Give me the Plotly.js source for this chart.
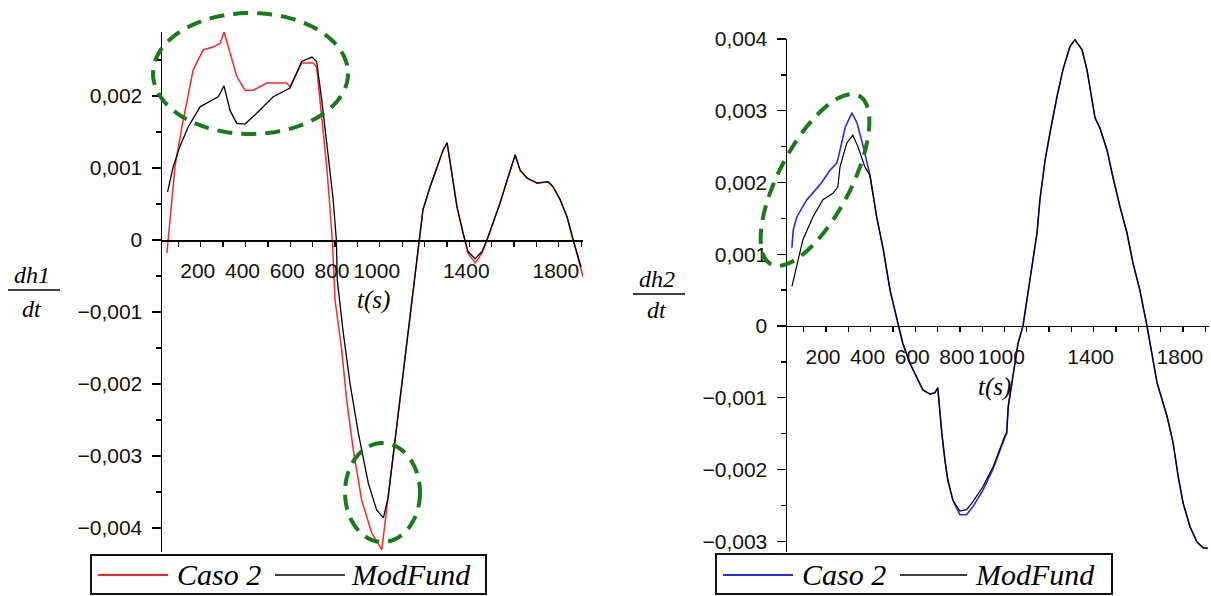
<!DOCTYPE html>
<html>
<head>
<meta charset="utf-8">
<script src="https://cdn.plot.ly/plotly-3.0.1.min.js"></script>
<style>
  html, body { margin: 0; padding: 0; background: #ffffff; }
  #chart { width: 1211px; height: 596px; }
</style>
</head>
<body>
<div id="chart"></div>
<script>
// ---------------- DATA ----------------
// Left panel: dh1/dt versus t(s)
const t1Caso2 = [49, 63, 85, 116, 139, 166, 211, 255, 286, 304, 331, 361, 398, 435, 495, 584, 599, 636, 652, 702, 718, 733, 748, 763, 776, 788, 800, 830, 852, 882, 919, 964, 1009, 1037, 1070, 1100, 1140, 1177, 1193, 1225, 1256, 1283, 1301, 1323, 1345, 1372, 1394, 1426, 1457, 1479, 1506, 1537, 1569, 1605, 1627, 1658, 1703, 1752, 1774, 1806, 1837, 1864, 1908];
const dh1Caso2 = [-0.00018, 0.00032, 0.00102, 0.00157, 0.00195, 0.00236, 0.00264, 0.00268, 0.00273, 0.00289, 0.0026, 0.00227, 0.00208, 0.00208, 0.00218, 0.00218, 0.00213, 0.00236, 0.00246, 0.00246, 0.0024, 0.00194, 0.00148, 0.00102, 0.0005, 0.0, -0.00083, -0.00153, -0.00222, -0.00292, -0.00361, -0.00407, -0.0043, -0.00358, -0.00274, -0.00197, -0.00095, 0.0, 0.00042, 0.00074, 0.00102, 0.00125, 0.00135, 0.00093, 0.00046, 0.0001, -0.00018, -0.00032, -0.00018, 0.0, 0.00024, 0.00051, 0.00083, 0.00118, 0.00097, 0.00086, 0.00079, 0.00081, 0.00074, 0.00056, 0.00032, 0.0, -0.00051];

const t1ModFund = [52, 77, 107, 144, 197, 241, 278, 304, 331, 361, 398, 450, 524, 599, 621, 651, 697, 718, 741, 763, 792, 806, 810, 837, 867, 904, 949, 986, 1016, 1037, 1070, 1100, 1140, 1177, 1193, 1225, 1256, 1283, 1301, 1323, 1345, 1372, 1394, 1426, 1457, 1479, 1506, 1537, 1569, 1605, 1627, 1658, 1703, 1752, 1774, 1806, 1837, 1864, 1900];
const dh1ModFund = [0.00067, 0.00102, 0.0013, 0.00157, 0.00185, 0.00192, 0.00199, 0.00214, 0.0018, 0.00162, 0.00161, 0.00176, 0.00199, 0.00211, 0.00227, 0.00248, 0.00254, 0.00248, 0.00194, 0.00134, 0.00056, 0.0, -0.00055, -0.00129, -0.00199, -0.00268, -0.00338, -0.00375, -0.00386, -0.00358, -0.00274, -0.00197, -0.00095, 0.0, 0.00042, 0.00074, 0.00102, 0.00125, 0.00135, 0.00093, 0.00046, 0.0001, -0.00016, -0.00026, -0.00016, 0.0, 0.00024, 0.00051, 0.00083, 0.00118, 0.00097, 0.00086, 0.00079, 0.00081, 0.00074, 0.00056, 0.00032, 0.0, -0.00038];

// Right panel: dh2/dt versus t(s)
const t2Caso2 = [47, 53, 69, 114, 173, 218, 248, 256, 286, 316, 339, 367, 397, 427, 457, 487, 525, 544, 576, 607, 634, 666, 688, 701, 708, 719, 733, 746, 769, 800, 830, 858, 903, 948, 1002, 1010, 1017, 1033, 1061, 1083, 1105, 1128, 1146, 1159, 1182, 1204, 1235, 1262, 1293, 1316, 1348, 1370, 1392, 1406, 1428, 1460, 1486, 1518, 1549, 1576, 1607, 1639, 1684, 1729, 1756, 1779, 1801, 1832, 1863, 1890, 1912];
const dh2Caso2 = [0.00109, 0.00134, 0.00152, 0.00176, 0.00197, 0.00217, 0.00227, 0.00236, 0.00277, 0.00297, 0.00283, 0.0025, 0.0021, 0.00152, 0.00106, 0.0005, 0.0, -0.00024, -0.00052, -0.00071, -0.00089, -0.00095, -0.00093, -0.00086, -0.00113, -0.00149, -0.00187, -0.00215, -0.00243, -0.00263, -0.00263, -0.00252, -0.00229, -0.002, -0.00155, -0.0015, -0.00112, -0.00079, -0.00024, 0.0, 0.00046, 0.00092, 0.0013, 0.00176, 0.00231, 0.00269, 0.00319, 0.00357, 0.00389, 0.00399, 0.00385, 0.00357, 0.00319, 0.0029, 0.00276, 0.00245, 0.00208, 0.00166, 0.0013, 0.00088, 0.0005, 0.0, -0.00079, -0.00126, -0.00163, -0.0021, -0.00247, -0.0028, -0.00301, -0.00309, -0.0031];

const t2ModFund = [47, 69, 96, 141, 186, 231, 253, 263, 293, 320, 343, 374, 397, 427, 457, 487, 525, 544, 576, 607, 634, 666, 688, 701, 708, 719, 733, 746, 769, 800, 830, 858, 903, 948, 1002, 1010, 1017, 1033, 1061, 1083, 1105, 1128, 1146, 1159, 1182, 1204, 1235, 1262, 1293, 1316, 1348, 1370, 1392, 1406, 1428, 1460, 1486, 1518, 1549, 1576, 1607, 1639, 1684, 1729, 1756, 1779, 1801, 1832, 1863, 1890, 1910];
const dh2ModFund = [0.00055, 0.00083, 0.0012, 0.00152, 0.00176, 0.00185, 0.00194, 0.00222, 0.00255, 0.00266, 0.0025, 0.00222, 0.0021, 0.00152, 0.00106, 0.0005, 0.0, -0.00024, -0.00052, -0.00071, -0.00089, -0.00095, -0.00093, -0.00086, -0.00113, -0.00149, -0.00187, -0.00215, -0.00243, -0.00258, -0.00256, -0.00245, -0.00224, -0.00197, -0.00153, -0.00148, -0.00112, -0.00079, -0.00024, 0.0, 0.00046, 0.00092, 0.0013, 0.00176, 0.00231, 0.00269, 0.00319, 0.00357, 0.00389, 0.00399, 0.00385, 0.00357, 0.00319, 0.0029, 0.00276, 0.00245, 0.00208, 0.00166, 0.0013, 0.00088, 0.0005, 0.0, -0.00079, -0.00126, -0.00163, -0.0021, -0.00247, -0.0028, -0.00301, -0.00309, -0.0031];

// Series names
const seriesNames = ["Caso 2", "ModFund"];

// Tick positions / labels
const xTickVals = [100, 200, 300, 400, 500, 600, 700, 800, 900, 1000, 1100, 1200, 1300, 1400, 1500, 1600, 1700, 1800, 1900];
const xTickText = ["", "200", "", "400", "", "600", "", "800", "", "1000", "", "", "", "1400", "", "", "", "1800", ""];
const y1TickVals = [-0.004, -0.003, -0.002, -0.001, 0, 0.001, 0.002];
const y1TickText = ["\u22120,004", "\u22120,003", "\u22120,002", "\u22120,001", "0", "0,001", "0,002"];
const y2TickVals = [-0.003, -0.002, -0.001, 0, 0.001, 0.002, 0.003, 0.004];
const y2TickText = ["\u22120,003", "\u22120,002", "\u22120,001", "0", "0,001", "0,002", "0,003", "0,004"];

// Axis ranges
const x1Range = [27, 1908];
const y1Range = [-0.004333, 0.002889];
const x2Range = [25, 1917];
const y2Range = [-0.00315, 0.004];

// ---------------- LAYOUT GEOMETRY (pixels) ----------------
const W = 1211, H = 596;
const P1 = {x0: 162, x1: 583, y0: 32, y1: 552};
const P2 = {x0: 787, x1: 1209, y0: 39, y1: 552};
const px = v => v / W;
const py = v => 1 - v / H;
const xDom = P => [px(P.x0), px(P.x1)];
const yDom = P => [py(P.y1), py(P.y0)];
const zeroPos = (P, r) => { const d = yDom(P); return d[0] + (0 - r[0]) / (r[1] - r[0]) * (d[1] - d[0]); };

const colCaso1 = "#ff2626", colCaso2 = "#2626ff", colMod = "#000000";
const tickFont = {family: "Liberation Sans, Arial, sans-serif", size: 21, color: "#111"};
const serifIt = (s) => ({family: "Liberation Serif, Times New Roman, serif", size: s, color: "#000", style: "italic"});
const green = "#187a18";

function xAxis(P, range, yRange) {
  return {
    domain: xDom(P), range: range, anchor: "free", position: zeroPos(P, yRange),
    showline: true, linecolor: "#000", linewidth: 1.5,
    ticks: "outside", ticklen: 5, tickwidth: 1.3, tickcolor: "#000",
    tickmode: "array", tickvals: xTickVals, ticktext: xTickText,
    tickfont: tickFont, ticklabelstandoff: 6, ticklabelshift: -3,
    showgrid: false, zeroline: false, fixedrange: true
  };
}
function yAxis(P, range, vals, text, xa) {
  return {
    domain: yDom(P), range: range, anchor: xa,
    showline: true, linecolor: "#000", linewidth: 1.5,
    ticks: "outside", ticklen: 9, tickwidth: 1.3, tickcolor: "#000",
    tickmode: "array", tickvals: vals, ticktext: text,
    tickfont: tickFont, ticklabelstandoff: 5,
    minor: {ticks: "outside", dtick: 0.0005, tick0: 0, ticklen: 5, tickwidth: 1.3, tickcolor: "#000", showgrid: false},
    showgrid: false, zeroline: false, fixedrange: true
  };
}

function ellipsePath(cx, cy, rx, ry, angDeg) {
  const a = angDeg * Math.PI / 180, n = 90;
  let d = "";
  for (let i = 0; i <= n; i++) {
    const th = 2 * Math.PI * i / n;
    const ex = rx * Math.cos(th), ey = ry * Math.sin(th);
    const x = cx + ex * Math.cos(a) - ey * Math.sin(a);
    const y = cy + ex * Math.sin(a) + ey * Math.cos(a);
    d += (i ? "L" : "M") + px(x).toFixed(5) + "," + py(y).toFixed(5);
  }
  return d + "Z";
}

const traces = [
  {x: t1Caso2, y: dh1Caso2, name: seriesNames[0], xaxis: "x", yaxis: "y", mode: "lines", line: {color: colCaso1, width: 1.5}, showlegend: false},
  {x: t1ModFund, y: dh1ModFund, name: seriesNames[1], xaxis: "x", yaxis: "y", mode: "lines", line: {color: colMod, width: 1.3}, showlegend: false},
  {x: t2Caso2, y: dh2Caso2, name: seriesNames[0], xaxis: "x2", yaxis: "y2", mode: "lines", line: {color: colCaso2, width: 1.6}, showlegend: false},
  {x: t2ModFund, y: dh2ModFund, name: seriesNames[1], xaxis: "x2", yaxis: "y2", mode: "lines", line: {color: colMod, width: 1.2}, showlegend: false}
];

const shapes = [];
const annotations = [];

// green dashed highlight ellipses
const dashStyle = {color: green, width: 4, dash: "15px,9px"};
shapes.push({type: "path", xref: "paper", yref: "paper", path: ellipsePath(250.5, 73.5, 97.5, 60.5, 0), line: dashStyle});
shapes.push({type: "path", xref: "paper", yref: "paper", path: ellipsePath(382.5, 492.5, 37.5, 49.5, 0), line: dashStyle});
shapes.push({type: "path", xref: "paper", yref: "paper", path: ellipsePath(815, 180, 95, 36, -62.4), line: dashStyle});

// custom legends
function legend(box, c1, line1, text1x, line2, text2x, ly) {
  shapes.push({type: "rect", xref: "paper", yref: "paper", x0: px(box[0]), x1: px(box[1]), y0: py(box[3]), y1: py(box[2]), line: {color: "#111", width: 2}, fillcolor: "rgba(0,0,0,0)"});
  shapes.push({type: "line", xref: "paper", yref: "paper", x0: px(line1[0]), x1: px(line1[1]), y0: py(ly), y1: py(ly), line: {color: c1, width: 2}});
  shapes.push({type: "line", xref: "paper", yref: "paper", x0: px(line2[0]), x1: px(line2[1]), y0: py(ly), y1: py(ly), line: {color: colMod, width: 1.6}});
  annotations.push({xref: "paper", yref: "paper", x: px(text1x), y: py(ly - 1), xanchor: "left", yanchor: "middle", text: seriesNames[0], showarrow: false, font: serifIt(30)});
  annotations.push({xref: "paper", yref: "paper", x: px(text2x), y: py(ly - 1), xanchor: "left", yanchor: "middle", text: seriesNames[1], showarrow: false, font: serifIt(30)});
}
legend([91, 486, 555, 594], colCaso1, [98, 168], 175, [275, 345], 349, 575);
legend([716, 1112, 554, 594], colCaso2, [723, 793], 800, [900, 967], 973, 575);

// axis titles (fractions) and t(s)
function frac(num, cx, ny, barX0, barX1, barY, dy) {
  annotations.push({xref: "paper", yref: "paper", x: px(cx), y: py(ny), xanchor: "center", yanchor: "middle", text: num, showarrow: false, font: serifIt(24)});
  annotations.push({xref: "paper", yref: "paper", x: px(cx), y: py(dy), xanchor: "center", yanchor: "middle", text: "dt", showarrow: false, font: serifIt(24)});
  shapes.push({type: "line", xref: "paper", yref: "paper", x0: px(barX0), x1: px(barX1), y0: py(barY), y1: py(barY), line: {color: "#000", width: 1.5}});
}
frac("dh1", 32, 275, 8, 60, 290, 309);
frac("dh2", 657, 279, 633, 685, 294, 310);
annotations.push({xref: "paper", yref: "paper", x: px(374), y: py(300), xanchor: "center", yanchor: "middle", text: "t(s)", showarrow: false, font: serifIt(25)});
annotations.push({xref: "paper", yref: "paper", x: px(995), y: py(387), xanchor: "center", yanchor: "middle", text: "t(s)", showarrow: false, font: serifIt(25)});

const layout = {
  width: W, height: H,
  margin: {l: 0, r: 0, t: 0, b: 0, pad: 0},
  paper_bgcolor: "#fff", plot_bgcolor: "rgba(0,0,0,0)",
  showlegend: false,
  xaxis: xAxis(P1, x1Range, y1Range),
  yaxis: yAxis(P1, y1Range, y1TickVals, y1TickText, "x"),
  xaxis2: xAxis(P2, x2Range, y2Range),
  yaxis2: yAxis(P2, y2Range, y2TickVals, y2TickText, "x2"),
  shapes: shapes,
  annotations: annotations
};

Plotly.newPlot("chart", traces, layout, {displayModeBar: false, staticPlot: true});
</script>
</body>
</html>
